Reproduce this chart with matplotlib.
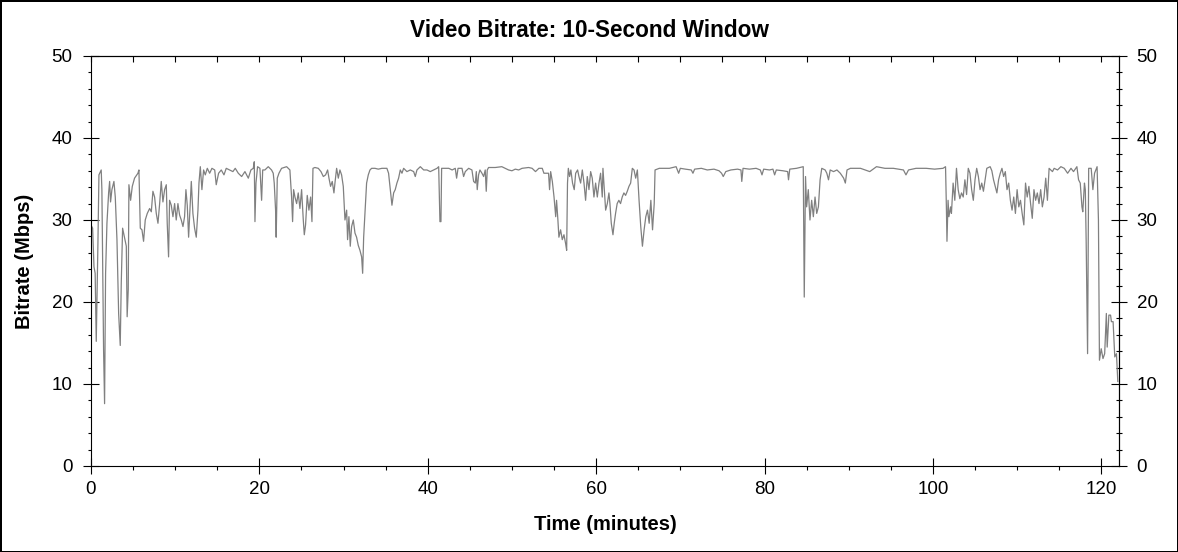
"""
Video bitrate over time, 10-second sliding window
"""
import matplotlib
matplotlib.use('Agg')
import matplotlib.pyplot as plt
from matplotlib.ticker import MultipleLocator

plt.rcParams['font.family'] = ['Liberation Sans', 'DejaVu Sans']

# values (minutes, Mbps)
minutes_a = [0.0, 0.2, 0.36, 0.5, 0.63, 0.83, 0.95, 1.22, 1.3, 1.39, 1.5, 1.62, 1.74, 1.9,
             2.1, 2.22, 2.33, 2.49, 2.73, 2.89, 3.09, 3.29, 3.48, 3.6, 3.76, 4.0, 4.2, 4.3,
             4.43, 4.51, 4.71, 4.91, 5.18, 5.58, 5.7, 5.86, 6.06, 6.25, 6.45, 6.69, 6.97,
             7.17, 7.36, 7.56, 7.76, 7.96, 8.16, 8.35, 8.55, 8.75, 8.95, 9.06, 9.22, 9.34,
             9.54, 9.74, 9.94, 10.13, 10.33, 10.53, 10.73, 10.93, 11.12, 11.28, 11.44, 11.6,
             11.76, 11.92, 12.11, 12.31, 12.51, 12.71, 12.83, 12.99, 13.18, 13.38, 13.58,
             13.82, 14.1, 14.37, 14.7, 14.88, 15.16, 15.48, 15.8, 16.07, 16.47, 16.86, 17.14]
bitrate_a = [29.4, 29.0, 24.3, 23.5, 15.2, 27.2, 35.5, 36.1, 33.7, 25.1, 14.2, 7.6, 23.5, 29.6,
             33.3, 34.7, 32.2, 33.7, 34.7, 32.8, 27.6, 18.6, 14.7, 22.3, 29.0, 27.8, 26.8, 18.2,
             21.5, 34.3, 32.4, 34.1, 35.1, 35.7, 36.1, 29.0, 28.8, 27.4, 30.0, 30.8, 31.4,
             31.0, 33.5, 32.8, 30.8, 29.6, 32.0, 34.7, 32.2, 33.7, 34.3, 29.6, 25.5, 32.4,
             31.8, 30.4, 32.0, 30.0, 32.0, 30.6, 30.0, 29.2, 30.4, 33.7, 31.8, 27.9,
             31.2, 34.7, 30.8, 29.0, 27.9, 31.2, 34.5, 36.5, 33.7, 36.1, 35.5,
             36.3, 35.7, 36.3, 36.1, 34.3, 35.7, 36.1, 35.5, 36.3, 36.1, 35.9, 36.3]

minutes_b = [17.5, 17.9, 18.29, 18.69, 19.0, 19.28, 19.4, 19.48, 19.6, 19.79, 20.07, 20.27,
             20.4, 20.66, 21.06, 21.45, 21.65, 21.77, 21.93, 22.0, 22.13, 22.33, 22.64, 23.24,
             23.63, 23.83, 23.95, 24.07, 24.23, 24.43, 24.62, 24.82, 25.02, 25.22, 25.34,
             25.49, 25.69, 25.89, 26.09, 26.25, 26.37, 26.6, 27.0, 27.32, 27.6, 27.87, 28.11,
             28.27, 28.46, 28.66, 28.86, 28.98, 29.18, 29.38, 29.57, 29.77, 29.97, 30.17,
             30.37, 30.48, 30.64, 30.8, 30.96, 31.16, 31.36, 31.55, 31.75, 31.95, 32.15,
             32.27, 32.39, 32.54, 32.74, 32.94, 33.14, 33.34, 33.73, 34.13]
bitrate_b = [35.7, 35.3, 35.9, 35.1, 36.1, 36.3, 37.1, 29.8, 34.5, 36.5, 36.3, 32.4,
             36.1, 36.1, 36.5, 36.1, 35.7, 34.5, 31.2, 27.9, 35.1, 35.7, 36.3, 36.5,
             36.1, 32.8, 29.8, 33.7, 32.8, 32.0, 33.3, 31.4, 33.7, 30.0, 28.2,
             29.4, 33.0, 31.2, 32.8, 29.8, 36.3, 36.4, 36.3, 35.9, 35.3, 35.5, 36.1,
             35.1, 34.1, 34.7, 33.3, 34.5, 36.3, 35.1, 36.1, 35.5, 34.1, 30.0,
             31.2, 27.6, 30.4, 26.8, 29.2, 30.0, 28.4, 27.9, 26.9, 26.3, 25.5,
             23.5, 27.9, 30.8, 34.5, 35.5, 36.1, 36.3, 36.3, 36.2]

minutes_c = [34.56, 35.15, 35.35, 35.55, 35.75, 35.95, 36.14, 36.34, 36.54, 36.74, 36.94,
             37.14, 37.53, 37.93, 38.33, 38.52, 38.72, 39.12, 39.52, 39.91, 40.3, 40.7, 41.1,
             41.3, 41.45, 41.57, 41.65, 42.08, 42.5, 42.9, 43.27, 43.43, 43.6, 44.07, 44.26,
             44.46, 44.86, 45.25, 45.45, 45.65, 45.77, 45.88, 46.04, 46.2, 46.44, 46.64,
             46.83, 46.95, 47.07, 47.23, 48.02, 48.8, 49.2, 49.6, 50.0, 50.4, 50.8, 51.2, 51.98]
bitrate_c = [36.3, 36.3, 35.7, 33.7, 31.8, 33.3, 33.7, 34.5, 35.1, 36.1, 35.7,
             36.3, 35.9, 36.1, 35.9, 35.3, 36.1, 36.5, 36.1, 36.1, 35.9, 36.1, 36.3,
             36.5, 29.8, 29.8, 36.3, 36.3, 36.3, 36.1, 36.3, 35.1, 36.3, 36.3, 35.3,
             35.9, 36.3, 36.1, 34.7, 34.5, 35.9, 33.7, 35.5, 36.1, 35.7, 35.3,
             36.1, 33.5, 36.1, 36.4, 36.4, 36.5, 36.3, 36.1, 36.0, 36.2, 36.1, 36.3, 36.4]

minutes_d = [52.4, 52.8, 53.2, 53.6, 53.8, 54.2, 54.35, 54.47, 54.6, 54.8, 55.0, 55.2, 55.3,
             55.46, 55.58, 55.78, 55.98, 56.18, 56.38, 56.5, 56.6, 56.7, 56.85, 57.0, 57.2,
             57.4, 57.57, 57.8, 57.96, 58.16, 58.36, 58.56, 58.75, 58.95, 59.15, 59.35,
             59.54, 59.74, 59.94, 60.14, 60.34, 60.53, 60.73, 60.81, 60.97, 61.13, 61.33,
             61.52, 61.64, 61.8, 62.0, 62.15, 62.31, 62.5, 62.7, 62.9, 63.1, 63.3, 63.5,
             63.7, 63.9, 64.1, 64.3, 64.5, 64.7, 64.9, 65.1, 65.3, 65.5, 65.7, 65.9, 66.1,
             66.3, 66.5, 66.7, 66.9, 67.0, 67.5, 67.9, 68.7, 69.5]
bitrate_d = [36.3, 35.9, 36.3, 36.3, 35.7, 35.7, 35.7, 33.7, 35.9, 34.7, 32.8, 30.4, 32.4,
             30.0, 27.9, 28.8, 27.6, 28.2, 27.1, 26.3, 34.5, 36.3, 35.3, 36.1, 34.5,
             33.7, 35.7, 36.1, 35.3, 34.5, 36.1, 34.5, 32.4, 35.3, 33.7, 35.9,
             35.1, 32.8, 34.5, 32.8, 34.5, 35.7, 32.8, 36.3, 33.7, 31.2, 32.0,
             33.3, 32.0, 29.6, 28.2, 29.6, 30.8, 32.0, 32.4, 32.0, 32.8, 33.3, 33.0,
             33.5, 34.1, 34.5, 36.3, 36.1, 35.1, 36.1, 32.4, 29.2, 26.8, 28.8, 30.4, 31.2,
             29.6, 32.4, 28.8, 32.0, 36.1, 36.3, 36.3, 36.3, 36.5]

minutes_e = [69.8, 70.0, 70.6, 71.3, 71.5, 71.7, 72.5, 73.2, 74.0, 74.6, 74.9, 75.1, 75.4,
             76.0, 76.8, 77.2, 77.3, 77.45, 78.2, 79.0, 79.5, 79.7, 79.9, 80.6, 81.0, 81.2,
             81.4, 82.2, 82.75, 82.85, 83.0, 83.8, 84.6, 84.72, 84.87, 85.0, 85.2, 85.4,
             85.6, 85.8, 86.0, 86.2, 86.4, 86.6, 86.8, 87.2, 87.4, 87.6, 87.8, 88.2, 88.6,
             89.0, 89.4, 89.6, 89.8, 90.2, 91.4]
bitrate_e = [35.7, 36.3, 36.2, 36.1, 35.7, 36.2, 36.3, 36.1, 36.2, 36.0, 35.7, 35.3, 35.9,
             36.1, 36.2, 36.1, 34.7, 36.3, 36.2, 36.3, 36.1, 35.5, 36.2, 36.1, 36.2, 35.5,
             36.1, 36.0, 35.9, 34.9, 36.2, 36.3, 36.5, 20.6, 35.3, 31.6, 33.7, 30.0,
             32.4, 30.4, 32.8, 30.8, 31.6, 34.9, 36.3, 36.1, 35.7, 34.9, 36.1, 35.9, 36.1,
             35.7, 35.1, 34.5, 36.1, 36.3, 36.3]

minutes_f = [92.5, 93.3, 94.3, 95.3, 96.5, 96.8, 97.1, 98.0, 99.2, 100.2, 101.2, 101.5,
             101.6, 101.67, 101.8, 101.9, 102.1, 102.2, 102.4, 102.6, 102.8, 103.0, 103.2,
             103.4, 103.6, 103.8, 104.0, 104.2, 104.4, 104.6, 104.8, 105.0, 105.2, 105.4,
             105.6, 105.8, 106.0, 106.2, 106.4, 106.8, 107.0, 107.2, 107.4, 107.6, 107.8,
             108.0, 108.2, 108.4, 108.6, 108.8, 109.0, 109.2, 109.4, 109.6, 109.8, 110.0,
             110.2, 110.4, 110.6, 110.8, 111.0, 111.2, 111.4, 111.6, 111.8, 112.0, 112.2,
             112.4, 112.6, 112.8, 113.0, 113.2, 113.4, 113.6, 113.8, 114.2, 114.4, 114.8,
             115.2, 115.6, 116.0, 116.4, 116.7, 117.1, 117.3, 117.5, 117.7, 117.8, 118.0,
             118.1, 118.2, 118.37, 118.5, 118.8, 119.0, 119.2, 119.5, 119.66, 119.78,
             119.99, 120.2, 120.4, 120.6, 120.7, 120.9, 121.1, 121.2, 121.4, 121.6, 121.8,
             121.96]
bitrate_f = [35.9, 36.5, 36.3, 36.3, 36.1, 35.5, 36.1, 36.3, 36.3, 36.2, 36.3, 36.5,
             31.6, 27.4, 32.4, 30.4, 31.6, 30.8, 34.5, 32.4, 36.3, 33.7, 32.6,
             33.3, 32.8, 34.9, 33.1, 36.3, 35.7, 33.7, 32.4, 34.9, 36.3, 35.3,
             33.7, 34.5, 33.5, 34.9, 36.3, 36.5, 36.0, 34.9, 34.1, 33.3, 34.9,
             35.7, 36.3, 35.3, 35.9, 33.7, 34.5, 32.4, 31.2, 32.8, 30.8, 33.7,
             31.6, 32.4, 30.8, 29.4, 34.5, 32.8, 34.1, 32.0, 30.2, 33.7, 32.4,
             33.3, 32.0, 33.7, 31.6, 32.8, 35.1, 32.4, 36.3, 35.9, 36.3, 36.1,
             36.5, 36.3, 35.7, 36.3, 35.9, 36.5, 34.9, 34.5, 31.6, 31.0, 34.5,
             33.7, 27.6, 13.7, 36.3, 36.3, 33.7, 35.7, 36.5, 30.0, 12.9,
             14.3, 13.1, 13.7, 18.6, 14.5, 18.4, 18.4, 17.6, 17.6, 13.3, 13.7,
             10.3]

minutes = minutes_a + minutes_b + minutes_c + minutes_d + minutes_e + minutes_f
bitrate = bitrate_a + bitrate_b + bitrate_c + bitrate_d + bitrate_e + bitrate_f

x_major = 20
x_minor = 5
y_major = 10
y_minor = 2


def main():
    fig = plt.figure(figsize=(11.78, 5.52), dpi=100)
    # thin frame around the whole picture
    fig.patch.set_edgecolor('black')
    fig.patch.set_linewidth(2)

    ax = fig.add_axes([0.0772, 0.1558, 0.8727, 0.7428])

    ax.plot(minutes, bitrate, color='#808080', linewidth=0.9)

    ax.set_xlim(0, 122.1)
    ax.set_ylim(0, 50)

    for side in ['left', 'bottom', 'right', 'top']:
        ax.spines[side].set_linewidth(0.8)

    ax.xaxis.set_major_locator(MultipleLocator(x_major))
    ax.xaxis.set_minor_locator(MultipleLocator(x_minor))
    ax.yaxis.set_major_locator(MultipleLocator(y_major))
    ax.yaxis.set_minor_locator(MultipleLocator(y_minor))

    ax.tick_params(axis='x', which='major', direction='inout', length=11,
                   width=0.8, labelsize=13.5, pad=5.5)
    ax.tick_params(axis='x', which='minor', direction='out', length=3, width=0.8)
    ax.tick_params(axis='y', which='major', direction='inout', length=11.5,
                   width=0.8, labelsize=13.5, pad=7.5)
    ax.tick_params(axis='y', which='minor', direction='out', length=2.5, width=0.8)

    # top edge: all ticks point inward
    top = ax.secondary_xaxis('top')
    top.xaxis.set_major_locator(MultipleLocator(x_minor))
    top.tick_params(axis='x', which='major', direction='in', length=4.3,
                    width=0.8, labeltop=False)
    top.spines['top'].set_linewidth(0.8)

    # right edge: a second copy of the Mbps scale
    right = ax.secondary_yaxis('right')
    right.yaxis.set_major_locator(MultipleLocator(y_major))
    right.yaxis.set_minor_locator(MultipleLocator(y_minor))
    right.tick_params(axis='y', which='major', direction='inout', length=11.5,
                      width=0.8, labelsize=13.5, pad=7)
    right.tick_params(axis='y', which='minor', direction='inout', length=4.3, width=0.8)
    right.spines['right'].set_linewidth(0.8)

    fig.text(0.5, 1 - 37.3 / 552, 'Video Bitrate: 10-Second Window',
             ha='center', va='baseline', fontsize=16.3, fontweight='bold')
    fig.text(605 / 1178, 1 - 524 / 552, 'Time (minutes)',
             ha='center', va='center', fontsize=14.5, fontweight='bold')
    fig.text(25 / 1178, 1 - 261 / 552, 'Bitrate (Mbps)', rotation=90,
             ha='center', va='center', fontsize=14.5, fontweight='bold')

    fig.savefig('out.png', dpi=100)


if __name__ == '__main__':
    main()
